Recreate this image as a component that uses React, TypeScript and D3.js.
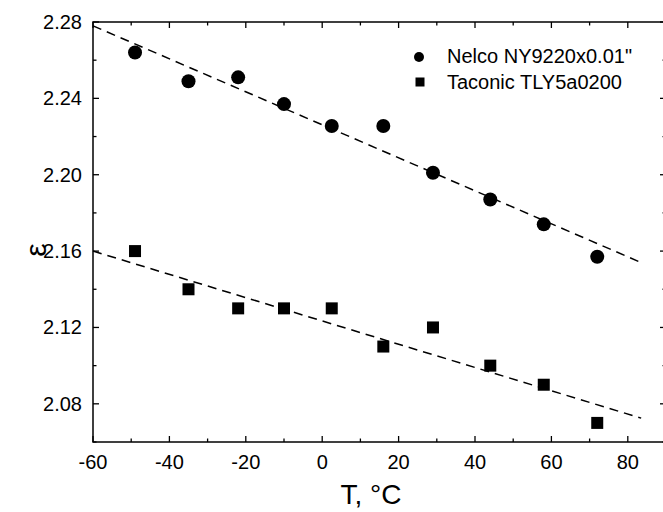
import React from 'react';
import * as d3 from 'd3';

// temperatures (°C) where both boards were measured
const temps = [-49, -35, -22, -10, 2.5, 16, 29, 44, 58, 72];
const nelco = [2.264, 2.249, 2.251, 2.237, 2.2255, 2.2255, 2.201, 2.187, 2.174, 2.157];
const taconic = [2.16, 2.14, 2.13, 2.13, 2.13, 2.11, 2.12, 2.1, 2.09, 2.07];

// linear fits (dashed), start / end
const fitT = [-60, 83.5];
const nelcoFit = [2.278, 2.154];
const taconicFit = [2.16, 2.0725];

const xTicks = [-60, -40, -20, 0, 20, 40, 60, 80];
const xMinor = [-50, -30, -10, 10, 30, 50, 70, 90];
const yTicks = [2.08, 2.12, 2.16, 2.2, 2.24, 2.28];
const yMinor = [2.06, 2.1, 2.14, 2.18, 2.22, 2.26];

const legendLabels = ['Nelco NY9220x0.01"', 'Taconic TLY5a0200'];

const W = 663;
const H = 512;
const font = '"Liberation Sans", Arial, Helvetica, sans-serif';

export default function App() {
  const left = 93;
  const right = 666;
  const top = 22;
  const bottom = 442;

  const x = d3.scaleLinear().domain([-60, 90]).range([left, right]);
  const y = d3.scaleLinear().domain([2.06, 2.28]).range([bottom, top]);

  const line = d3
    .line<[number, number]>()
    .x((d) => x(d[0]))
    .y((d) => y(d[1]));

  const fits = [nelcoFit, taconicFit].map((f) => line(fitT.map((t, i) => [t, f[i]] as [number, number])));

  const major = 6;
  const minor = 3.5;
  const sq = 12;

  return (
    <div style={{ position: 'absolute', left: 0, top: 0 }}>
      <svg width={W} height={H} style={{ display: 'block', background: 'white' }} fontFamily={font}>
        {/* frame */}
        <rect x={left} y={top} width={right - left} height={bottom - top} fill="none" stroke="#000" strokeWidth={1.5} />

        {/* x ticks, bottom & top, pointing inward */}
        {xTicks.map((t) => (
          <g key={'xt' + t}>
            <line x1={x(t)} x2={x(t)} y1={bottom} y2={bottom - major} stroke="#000" strokeWidth={1.3} />
            <line x1={x(t)} x2={x(t)} y1={top} y2={top + major} stroke="#000" strokeWidth={1.3} />
            <text x={x(t)} y={469} fontSize={20} textAnchor="middle">
              {t}
            </text>
          </g>
        ))}
        {xMinor.map((t) => (
          <g key={'xm' + t}>
            <line x1={x(t)} x2={x(t)} y1={bottom} y2={bottom - minor} stroke="#000" strokeWidth={1.3} />
            <line x1={x(t)} x2={x(t)} y1={top} y2={top + minor} stroke="#000" strokeWidth={1.3} />
          </g>
        ))}

        {/* y ticks, left & right */}
        {yTicks.map((v) => (
          <g key={'yt' + v}>
            <line x1={left} x2={left + major} y1={y(v)} y2={y(v)} stroke="#000" strokeWidth={1.3} />
            <line x1={right} x2={right - major} y1={y(v)} y2={y(v)} stroke="#000" strokeWidth={1.3} />
            <text x={82} y={y(v) + 7} fontSize={20} textAnchor="end">
              {d3.format('.2f')(v)}
            </text>
          </g>
        ))}
        {yMinor.map((v) => (
          <g key={'ym' + v}>
            <line x1={left} x2={left + minor} y1={y(v)} y2={y(v)} stroke="#000" strokeWidth={1.3} />
            <line x1={right} x2={right - minor} y1={y(v)} y2={y(v)} stroke="#000" strokeWidth={1.3} />
          </g>
        ))}

        {/* fitted lines */}
        {fits.map((d, i) => (
          <path key={'fit' + i} d={d || ''} fill="none" stroke="#000" strokeWidth={1.5} strokeDasharray="9,6" />
        ))}

        {/* markers */}
        {temps.map((t, i) => (
          <circle key={'c' + i} cx={x(t)} cy={y(nelco[i])} r={7} fill="#000" />
        ))}
        {temps.map((t, i) => (
          <rect key={'s' + i} x={x(t) - sq / 2} y={y(taconic[i]) - sq / 2} width={sq} height={sq} fill="#000" />
        ))}

        {/* legend */}
        <circle cx={419} cy={57} r={5} fill="#000" />
        <rect x={415.5} y={77.5} width={9} height={9} fill="#000" />
        <text x={447} y={63} fontSize={20}>
          {legendLabels[0]}
        </text>
        <text x={447} y={89} fontSize={20}>
          {legendLabels[1]}
        </text>

        {/* axis titles */}
        <text x={371} y={504} fontSize={28} textAnchor="middle">
          T, °C
        </text>
        <text transform="translate(46,250) rotate(-90)" fontSize={30} textAnchor="middle">
          ε
        </text>
      </svg>
    </div>
  );
}
